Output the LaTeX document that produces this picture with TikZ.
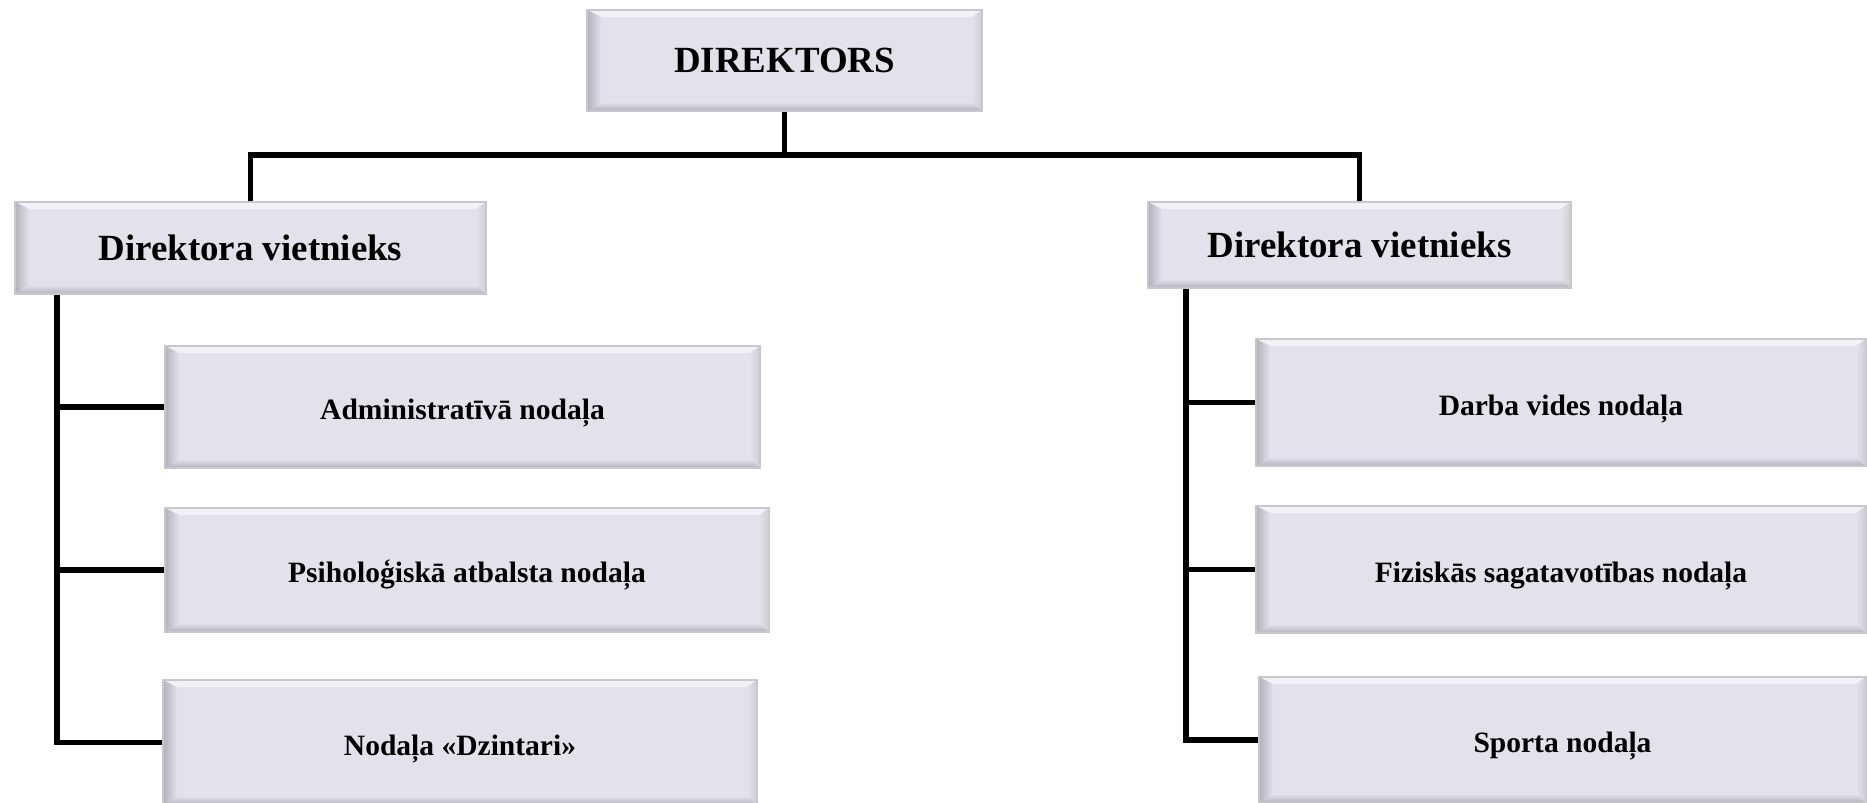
\documentclass[tikz,border=0pt]{standalone}
\usepackage{fontspec}
\setmainfont{Liberation Serif}
\usepackage{tikz}
\usetikzlibrary{backgrounds}
\definecolor{boxface}{RGB}{227,226,234}
\definecolor{boxrim}{RGB}{200,200,204}
\definecolor{bevtop}{RGB}{242,242,246}
\definecolor{bevdark}{RGB}{178,177,188}
\definecolor{bevside}{RGB}{205,204,212}
\pgfdeclarelayer{edgelayer}
\pgfdeclarelayer{nodelayer}
\pgfsetlayers{edgelayer,nodelayer,main}
\tikzstyle{none}=[inner sep=0pt]
\tikzstyle{bevel}=[path picture={
	\coordinate (nw) at (path picture bounding box.north west);
	\coordinate (ne) at (path picture bounding box.north east);
	\coordinate (sw) at (path picture bounding box.south west);
	\coordinate (se) at (path picture bounding box.south east);
	\fill [bevtop] (nw) -- (ne) -- ([xshift=-0.1cm,yshift=-0.07cm]ne) -- ([xshift=0.14cm,yshift=-0.07cm]nw) -- cycle;
	\shade [left color=bevdark, right color=boxface] (nw) -- ([xshift=0.14cm,yshift=-0.07cm]nw) -- ([xshift=0.14cm,yshift=0.09cm]sw) -- (sw) -- cycle;
	\shade [top color=boxface, bottom color=bevdark] (sw) -- ([xshift=0.14cm,yshift=0.09cm]sw) -- ([xshift=-0.1cm,yshift=0.09cm]se) -- (se) -- cycle;
	\shade [left color=boxface, right color=bevside] (se) -- ([xshift=-0.1cm,yshift=0.09cm]se) -- ([xshift=-0.1cm,yshift=-0.07cm]ne) -- (ne) -- cycle;
}]
\tikzstyle{box}=[rectangle,fill=boxface,draw=boxrim,line width=0.8pt,inner sep=0pt,style=bevel]
\tikzstyle{headbox}=[style=box,font=\fontsize{10.5}{12}\selectfont\bfseries]
\tikzstyle{unitbox}=[style=box,font=\fontsize{8.4}{10}\selectfont\bfseries,text height=7.2pt,text depth=0pt]
\tikzstyle{simple}=[-,draw=black,line width=1.6pt]

\begin{document}
\begin{tikzpicture}
	\useasboundingbox (0,0) rectangle (18.67,-8.03);
	\begin{pgfonlayer}{nodelayer}
		\node [style=headbox,minimum width=3.95cm,minimum height=1.01cm] (dir) at (7.845,-0.605) {DIREKTORS};
		\node [style=headbox,minimum width=4.71cm,minimum height=0.92cm] (vpl) at (2.505,-2.48) {Direktora vietnieks};
		\node [style=headbox,minimum width=4.23cm,minimum height=0.86cm] (vpr) at (13.595,-2.45) {Direktora vietnieks};

		\node [style=unitbox,minimum width=5.95cm,minimum height=1.22cm] (adm) at (4.625,-4.07) {Administratīvā nodaļa};
		\node [style=unitbox,minimum width=6.04cm,minimum height=1.24cm] (psy) at (4.67,-5.70) {Psiholoģiskā atbalsta nodaļa};
		\node [style=unitbox,minimum width=5.94cm,minimum height=1.25cm] (dzi) at (4.60,-7.425) {Nodaļa «Dzintari»};

		\node [style=unitbox,minimum width=6.10cm,minimum height=1.27cm] (dar) at (15.61,-4.025) {Darba vides nodaļa};
		\node [style=unitbox,minimum width=6.10cm,minimum height=1.27cm] (fiz) at (15.61,-5.695) {Fiziskās sagatavotības nodaļa};
		\node [style=unitbox,minimum width=6.07cm,minimum height=1.26cm] (spo) at (15.625,-7.40) {Sporta nodaļa};

		\coordinate (dirj) at (7.845,-1.55);
		\coordinate (vplj) at (0.57,-2.94);
		\coordinate (vprj) at (11.86,-2.88);
	\end{pgfonlayer}
	\begin{pgfonlayer}{edgelayer}
		\draw [style=simple] (dir) to (dirj);
		\draw [style=simple] (dirj) -| (vpl);
		\draw [style=simple] (dirj) -| (vpr);
		\draw [style=simple] (vplj) |- (adm);
		\draw [style=simple] (vplj) |- (psy);
		\draw [style=simple] (vplj) |- (dzi);
		\draw [style=simple] (vprj) |- (dar);
		\draw [style=simple] (vprj) |- (fiz);
		\draw [style=simple] (vprj) |- (spo);
	\end{pgfonlayer}
\end{tikzpicture}
\end{document}
